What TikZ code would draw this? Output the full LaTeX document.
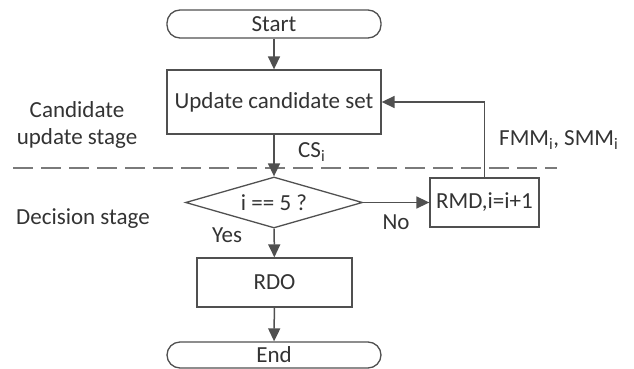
\documentclass[tikz,border=0pt]{standalone}
\usepackage{fontspec}
\setmainfont{Carlito}
\usetikzlibrary{arrows.meta,shapes.geometric}
\definecolor{linec}{HTML}{505050}
\definecolor{txtc}{HTML}{333333}
\definecolor{dashc}{HTML}{7A7A7A}
\begin{document}
\begin{tikzpicture}[x=1pt,y=-1pt,
  font=\fontsize{23}{27}\selectfont,
  every node/.style={text=txtc},
  box/.style={draw=linec, line width=1.3pt, inner sep=0pt},
  term/.style={box, rounded corners=13pt},
  flow/.style={draw=linec, line width=1.5pt, -{Triangle[length=13pt,width=12pt]}},
  lbl/.style={inner sep=0pt}]
\useasboundingbox (0,0) rectangle (634,369);
\draw[dashc, line width=2.8pt, dash pattern=on 20pt off 8pt] (13,168) -- (557,168);
\node[term, minimum width=214pt, minimum height=28pt] (start) at (274,24) {Start};
\node[box, minimum width=214pt, minimum height=64pt] (upd) at (274,102) {Update candidate set};
\node[box, diamond, shape aspect=3.47, minimum width=177pt, minimum height=51pt] (dec) at (274,202.5) {i == 5 ?};
\node[box, minimum width=109pt, minimum height=49pt] (rmd) at (484.5,202.5) {RMD,i=i+1};
\node[box, minimum width=155pt, minimum height=49pt] (rdo) at (274.5,282.5) {RDO};
\node[term, minimum width=214pt, minimum height=26pt] (end) at (274,355) {End};
\draw[flow] (start) -- (upd);
\draw[flow] (upd) -- (dec);
\draw[flow] (dec) -- (rmd);
\draw[flow] (dec) -- (rdo);
\draw[flow] (rdo) -- (end);
\draw[flow] (rmd.north) |- (upd.east);
\node[lbl, anchor=west] (cs) at (298,152) {CS\textsubscript{i}};
\node[lbl, anchor=west] (fmm) at (499,140) {FMM\textsubscript{i}, SMM\textsubscript{i}};
\node[lbl] (no) at (396,222) {No};
\node[lbl] (yes) at (227,235) {Yes};
\node[lbl, align=center] (cand) at (77,125) {Candidate\\update stage};
\node[lbl] (decl) at (83,219) {Decision stage};
\end{tikzpicture}
\end{document}
